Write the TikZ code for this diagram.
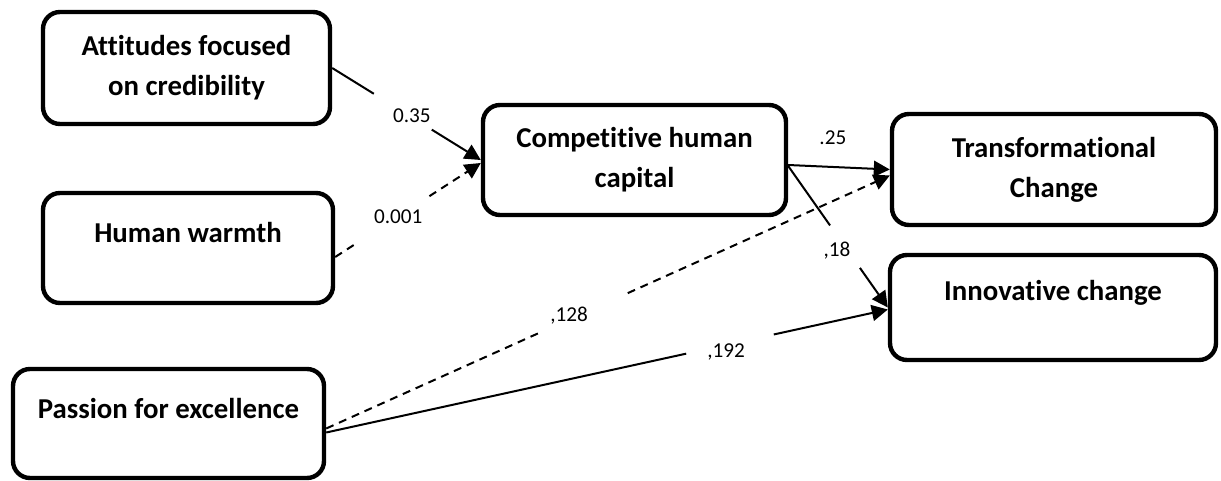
\documentclass[tikz,border=0pt]{standalone}
\usepackage{fontspec}
\setmainfont[Ligatures=NoCommon]{Carlito}
\usetikzlibrary{arrows.meta,calc}
\newcommand\liftline[1]{\raisebox{7.5pt}[\height][\depth]{#1}}
\begin{document}
\begin{tikzpicture}[x=0.5pt,y=-0.5pt,
  box/.style={draw,line width=2.2pt,rounded corners=8.5pt,align=center,
    font=\bfseries\fontsize{14.4}{20}\selectfont,inner sep=0pt},
  link/.style={line width=1pt},
  tip/.style={-{Triangle[length=8pt,width=8pt]}},
  dsh/.style={dash pattern=on 4pt off 3pt},
  lbl/.style={font=\fontsize{10.6}{12}\selectfont,inner sep=0pt}]
\useasboundingbox (0,0) rectangle (1221,481);

% constructs
\node[box,minimum width=143.5pt,minimum height=56pt] (A) at (186.5,68)
  {Attitudes focused\\on credibility};
\node[box,minimum width=145pt,minimum height=55pt] (H) at (188,248)
  {\liftline{Human warmth}};
\node[box,minimum width=155.5pt,minimum height=54.5pt] (P) at (168.5,423.5)
  {\liftline{Passion for excellence}};
\node[box,minimum width=151.5pt,minimum height=55pt] (C) at (634.5,160)
  {Competitive human\\capital};
\node[box,minimum width=162pt,minimum height=55.5pt] (T) at (1054,169.5)
  {Transformational\\Change};
\node[box,minimum width=163pt,minimum height=52.5pt] (I) at (1053,307.5)
  {\liftline{Innovative change}};

% connector end points
\coordinate (sAC) at (A.east);
\coordinate (eAC) at (C.west);
\coordinate (sHC) at ($(H.east)+(0,9)$);
\coordinate (eHC) at ($(C.west)+(0,3)$);
\coordinate (sCT) at ($(C.east)+(0,5)$);
\coordinate (eCT) at (T.west);
\coordinate (sCI) at ($(C.east)+(0,6)$);
\coordinate (eCI) at (I.west);
\coordinate (sPT) at ($(P.east)+(0,5)$);
\coordinate (ePT) at ($(T.west)+(0,6)$);
\coordinate (sPI) at ($(P.east)+(0,9)$);
\coordinate (ePI) at ($(I.west)+(0,2)$);

% credibility -> capital
\draw[link] (sAC) -- ($(sAC)!0.28!(eAC)$);
\draw[link,tip] ($(sAC)!0.67!(eAC)$) -- (eAC);
\node[lbl] (l1) at ($(sAC)!0.536!(eAC)+(0,-2)$) {0.35};

% warmth -> capital
\draw[link,dsh] (sHC) -- ($(sHC)!0.147!(eHC)$);
\draw[link,dsh,tip] ($(sHC)!0.647!(eHC)$) -- (eHC);
\node[lbl] (l2) at ($(sHC)!0.433!(eHC)$) {0.001};

% capital -> transformational
\draw[link,tip] (sCT) -- (eCT);
\node[lbl] (l3) at ($(sCT)!0.44!(eCT)+(0,-29)$) {.25};

% capital -> innovative
\draw[link] (sCI) -- ($(sCI)!0.42!(eCI)$);
\draw[link,tip] ($(sCI)!0.72!(eCI)$) -- (eCI);
\node[lbl] (l4) at ($(sCI)!0.6!(eCI)+(-11,0)$) {,18};

% passion -> transformational
\draw[link,dsh] (sPT) -- ($(sPT)!0.377!(ePT)$);
\draw[link,dsh,tip] ($(sPT)!0.535!(ePT)$) -- (ePT);
\node[lbl] (l5) at ($(sPT)!0.431!(ePT)+(0,-4)$) {,128};

% passion -> innovative
\draw[link] (sPI) -- ($(sPI)!0.641!(ePI)$);
\draw[link,tip] ($(sPI)!0.797!(ePI)$) -- (ePI);
\node[lbl] (l6) at ($(sPI)!0.712!(ePI)+(0,7)$) {,192};
\end{tikzpicture}
\end{document}
